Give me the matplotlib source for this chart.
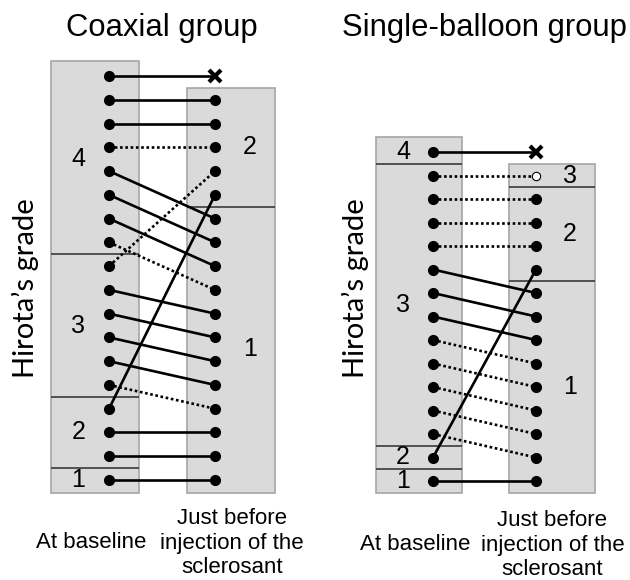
import matplotlib.pyplot as plt
from matplotlib.patches import Rectangle
from matplotlib.transforms import blended_transform_factory

plt.rcParams['font.family'] = ['Liberation Sans', 'DejaVu Sans']

W, H = 630, 580

# ---- data: one entry per patient, listed top to bottom ----
# Coaxial group
coax_base_grade = [4] * 8 + [3] * 6 + [2] * 3 + [1]
coax_follow_grade = [None] + [2] * 5 + [1] * 12      # None = dropped out (x)
coax_to = [0, 1, 2, 3, 6, 7, 8, 9, 4, 10, 11, 12, 13, 14, 5, 15, 16, 17]
coax_dotted = [0, 0, 0, 1, 0, 0, 0, 1, 1, 0, 0, 0, 0, 1, 0, 0, 0, 0]
coax_open = []

# Single-balloon group
single_base_grade = [4] + [3] * 12 + [2] + [1]
single_follow_grade = [None] + [3] + [2] * 4 + [1] * 9
single_to = [0, 1, 2, 3, 4, 6, 7, 8, 9, 10, 11, 12, 13, 5, 14]
single_dotted = [0, 1, 1, 1, 1, 0, 0, 0, 1, 1, 1, 1, 1, 0, 0]
single_open = [1]

titles = ['Coaxial group', 'Single-balloon group']
ylabel = 'Hirota\u2019s grade'
xlabels = ['At baseline', 'Just before\ninjection of the\nsclerosant']

FILL = '#dadada'
EDGE = '#a6a6a6'
SEP = '#3a3a3a'


def px_axes(fig, x0, x1, y0, y1):
    # axes placed by pixel box (y measured from top)
    return fig.add_axes([x0 / W, 1 - y1 / H, (x1 - x0) / W, (y1 - y0) / H])


def grade_column(ax, grades, xc, xl, xr, top_pad, num_dx):
    n = len(grades)
    yv = [n - 1 - i for i in range(n)]
    idx = [i for i, g in enumerate(grades) if g is not None]
    top = yv[idx[0]] + top_pad
    bottom = -0.53
    ax.add_patch(Rectangle((xl, bottom), xr - xl, top - bottom, facecolor=FILL,
                           edgecolor=EDGE, lw=1.2, zorder=1))
    for g in sorted(set(grades[i] for i in idx), reverse=True):
        slots = [yv[i] for i, gg in enumerate(grades) if gg == g]
        ax.text(xc + num_dx, sum(slots) / len(slots), str(g), fontsize=18,
                ha='center', va='center', zorder=2)
        if min(slots) > 0:
            ax.hlines(min(slots) - 0.5, xl, xr, color=SEP, lw=1.2, zorder=2)


def panel(ax, base, follow, to, dotted, opened):
    n = len(base)
    ax.set_xlim(-0.6, 1.62)
    ax.set_ylim(-1, 18.2)
    ax.axis('off')
    grade_column(ax, base, 0, -0.55, 0.28, 0.65, -0.29)
    grade_column(ax, follow, 1, 0.74, 1.57, 0.5, 0.33)
    for i, j in enumerate(to):
        ls = (0, (1, 1)) if dotted[i] else '-'
        ax.plot([0, 1], [n - 1 - i, n - 1 - j], color='black', lw=1.9,
                ls=ls, zorder=3)
        ax.plot(0, n - 1 - i, 'o', color='black', ms=7, zorder=4)
        if follow[j] is None:
            ax.plot(1, n - 1 - j, 'x', color='black', ms=9, mew=3, zorder=4)
        elif j in opened:
            ax.plot(1, n - 1 - j, 'o', mfc='white', mec='black', ms=6,
                    mew=0.8, zorder=4)
        else:
            ax.plot(1, n - 1 - j, 'o', color='black', ms=7, zorder=4)


fig = plt.figure(figsize=(W / 100, H / 100), dpi=100)

# left panel: x=0 at 109px, 106 px/unit; slots 76..480 px
ax1 = px_axes(fig, 109 - 0.6 * 106, 109 + 1.62 * 106,
              480 - 18.2 * 23.765, 480 + 23.765)
panel(ax1, coax_base_grade, coax_follow_grade, coax_to, coax_dotted, coax_open)

# right panel: x=0 at 433px, 103 px/unit; slots 152..481 px
ax2 = px_axes(fig, 433 - 0.6 * 103, 433 + 1.62 * 103,
              481 - 18.2 * 23.5, 481 + 23.5)
panel(ax2, single_base_grade, single_follow_grade, single_to, single_dotted,
      single_open)

for ax, tx, yl_x, lab_y in [(ax1, 162, 25, 543), (ax2, 484, 355, 545)]:
    fig.text(tx / W, 1 - 28 / H, titles[ax is ax2], fontsize=22.3,
             ha='center', va='center')
    fig.text(yl_x / W, 1 - 288 / H, ylabel, rotation=90, fontsize=21,
             family=['Lato', 'DejaVu Sans'], ha='center', va='center')
    tr = blended_transform_factory(ax.transData, fig.transFigure)
    ax.text(-0.17, 1 - lab_y / H, xlabels[0], transform=tr, fontsize=16,
            ha='center', va='center')
    ax.text(1.16, 1 - lab_y / H, xlabels[1], transform=tr, fontsize=16,
            ha='center', va='center')

fig.savefig('out.png', dpi=100, facecolor='white')
